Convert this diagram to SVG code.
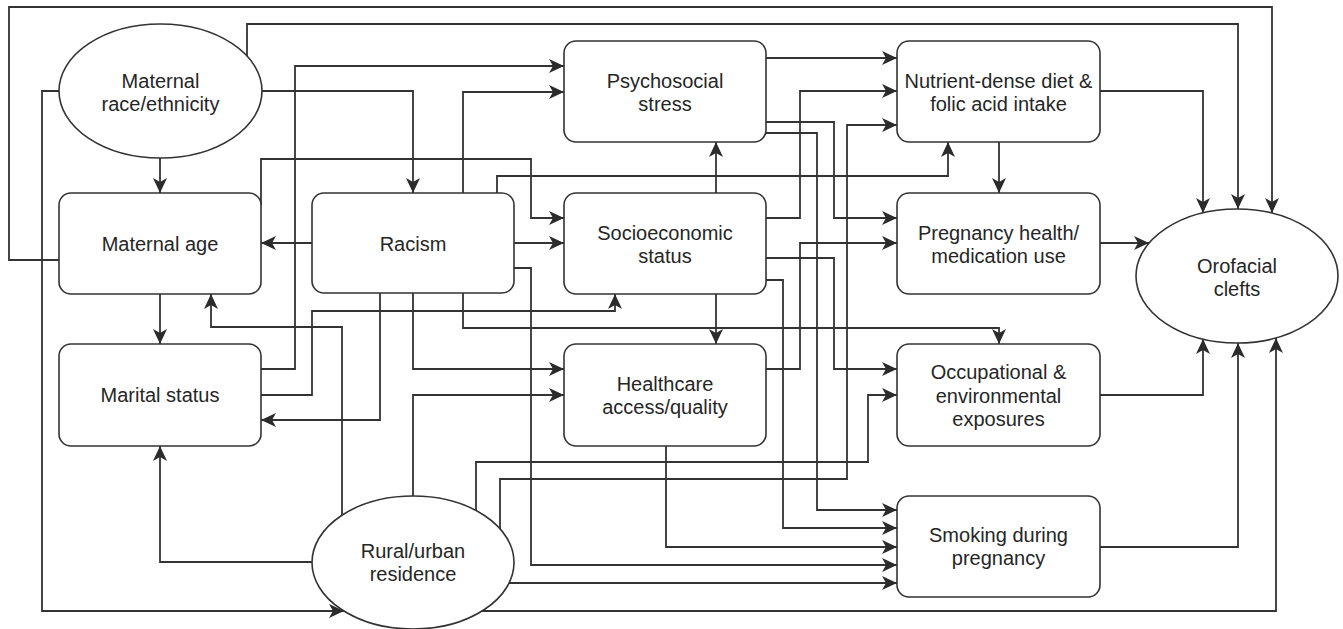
<svg xmlns="http://www.w3.org/2000/svg" width="1343" height="629" viewBox="0 0 1343 629">
<style>
.n rect,.n ellipse{fill:#fff;stroke:#333;stroke-width:1.6}
.n text{font-family:"Liberation Sans",Arial,sans-serif;font-size:20px;fill:#262626;text-anchor:middle}
#connectors path{fill:none;stroke:#333;stroke-width:1.8;marker-end:url(#ah)}
</style>
<defs>
<marker id="ah" viewBox="-16 -8 17 16" refX="0" refY="0" markerWidth="17" markerHeight="16" markerUnits="userSpaceOnUse" orient="auto">
<path d="M0,0 L-15,-7 L-11,0 L-15,7 Z" fill="#2b2b2b"/>
</marker>
</defs>
<rect width="1343" height="629" fill="#fff"/>
<g id="connectors">
<path d="M59,260 H9 V7 H1272 V213"/>
<path d="M247,56 V24 H1238 V209"/>
<path d="M1100,91 H1203 V213"/>
<path d="M59,91 H42 V611 H344"/>
<path d="M482,611 H1276 V338"/>
<path d="M262,91 H413 V193"/>
<path d="M160,158 V193"/>
<path d="M261,369 H295 V66 H564"/>
<path d="M463,193 V92 H564"/>
<path d="M261,205 V159 H531 V218 H564"/>
<path d="M497,193 V176 H948 V142"/>
<path d="M312,243 H261"/>
<path d="M514,243 H564"/>
<path d="M514,268 H531 V565 H897"/>
<path d="M380,293 V420 H261"/>
<path d="M413,293 V369 H564"/>
<path d="M463,293 V328 H999 V344"/>
<path d="M261,395 H312 V311 H615 V294"/>
<path d="M342,515 V327 H211 V294"/>
<path d="M160,294 V344"/>
<path d="M312,562 H160 V446"/>
<path d="M413,496 V395 H564"/>
<path d="M716,193 V142"/>
<path d="M716,294 V344"/>
<path d="M999,142 V193"/>
<path d="M1100,243 H1149"/>
<path d="M1100,395 H1203 V339"/>
<path d="M1100,547 H1238 V343"/>
<path d="M766,58 H897"/>
<path d="M766,122 H834 V218 H897"/>
<path d="M766,133 H817 V510 H897"/>
<path d="M766,218 H800 V91 H897"/>
<path d="M766,258 H834 V369 H897"/>
<path d="M766,280 H783 V528 H897"/>
<path d="M766,369 H800 V243 H897"/>
<path d="M500,529 V479 H847 V125 H897"/>
<path d="M476,510 V462 H868 V395 H897"/>
<path d="M666,446 V547 H897"/>
<path d="M509,583 H897"/>
</g>
<g id="maternal-race" class="n"><ellipse cx="160.5" cy="91" rx="101.5" ry="67"/><text x="160.5" y="88">Maternal</text><text x="160.5" y="111">race/ethnicity</text></g>
<g id="maternal-age" class="n"><rect x="59" y="193" width="202" height="101" rx="12"/><text x="160" y="251">Maternal age</text></g>
<g id="racism" class="n"><rect x="312" y="193" width="202" height="100" rx="12"/><text x="413" y="251">Racism</text></g>
<g id="psychosocial" class="n"><rect x="564" y="41" width="202" height="101" rx="12"/><text x="665" y="88">Psychosocial</text><text x="665" y="111">stress</text></g>
<g id="ses" class="n"><rect x="564" y="193" width="202" height="101" rx="12"/><text x="665" y="240">Socioeconomic</text><text x="665" y="263">status</text></g>
<g id="nutrient" class="n"><rect x="897" y="41" width="203" height="101" rx="12"/><text x="998.5" y="88">Nutrient-dense diet &amp;</text><text x="998.5" y="111">folic acid intake</text></g>
<g id="pregnancy" class="n"><rect x="897" y="193" width="203" height="101" rx="12"/><text x="998.5" y="240">Pregnancy health/</text><text x="998.5" y="263">medication use</text></g>
<g id="orofacial" class="n"><ellipse cx="1237" cy="276" rx="101" ry="67"/><text x="1237" y="273">Orofacial</text><text x="1237" y="296">clefts</text></g>
<g id="marital" class="n"><rect x="59" y="344" width="202" height="102" rx="12"/><text x="160" y="402">Marital status</text></g>
<g id="healthcare" class="n"><rect x="564" y="344" width="202" height="102" rx="12"/><text x="665" y="391">Healthcare</text><text x="665" y="414">access/quality</text></g>
<g id="occupational" class="n"><rect x="897" y="344" width="203" height="102" rx="12"/><text x="998.5" y="379">Occupational &amp;</text><text x="998.5" y="402.5">environmental</text><text x="998.5" y="426">exposures</text></g>
<g id="smoking" class="n"><rect x="897" y="496" width="203" height="101" rx="12"/><text x="998.5" y="542">Smoking during</text><text x="998.5" y="565">pregnancy</text></g>
<g id="rural" class="n"><ellipse cx="413" cy="562.5" rx="101" ry="66.5"/><text x="413" y="558">Rural/urban</text><text x="413" y="581">residence</text></g>
</svg>
